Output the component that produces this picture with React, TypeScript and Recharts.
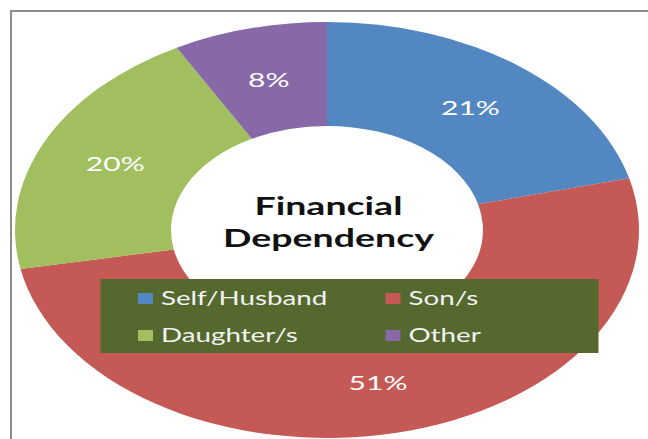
import { PieChart, Pie, Cell, Legend } from "recharts";

const categories = ["Self/Husband", "Son/s", "Daughter/s", "Other"];
const shares = [21, 51, 20, 8];
const colors = ["#5387C1", "#C45955", "#A1BF5F", "#8669A6"];
const titleLines = ["Financial", "Dependency"];

const data = categories.map((name, i) => ({ name, value: shares[i] }));

const FONT = "Lato, 'Open Sans', sans-serif";
const RADIAN = Math.PI / 180;

// the original picture is stretched sideways, so draw narrow and scale x by 1.5
const STRETCH = 1.5;
const W = 648 / STRETCH;
const H = 439;
const CX = 218;
const CY = 230;

function sliceLabel(p: any) {
  const r = p.innerRadius + (p.outerRadius - p.innerRadius) * 0.5;
  const x = p.cx + r * Math.cos(-p.midAngle * RADIAN);
  const y = p.cy + r * Math.sin(-p.midAngle * RADIAN);
  return (
    <text x={x} y={y} fill="#ffffff" fontFamily={FONT} fontSize={20}
      textAnchor="middle" dominantBaseline="central">
      {`${p.value}%`}
    </text>
  );
}

function legendBox() {
  return (
    <div style={{
      width: "100%", height: "100%", background: "#55682E", position: "relative",
      fontFamily: FONT, fontSize: 18.5, color: "#f2f2f2",
    }}>
      {categories.map((c, i) => (
        <div key={c} style={{
          position: "absolute",
          left: i % 2 === 0 ? 25 : 190,
          top: i < 2 ? 7 : 44,
          display: "flex", alignItems: "center", height: 24, whiteSpace: "nowrap",
        }}>
          <span style={{ width: 10, height: 11, background: colors[i], marginRight: 5 }} />
          <span>{c}</span>
        </div>
      ))}
    </div>
  );
}

export default function App() {
  return (
    <div style={{
      position: "absolute", left: 0, top: 0, width: 648, height: 439,
      overflow: "hidden", background: "#fff",
    }}>
      <div style={{
        position: "absolute", left: 10, top: 10, width: 700, height: 500,
        border: "2px solid #8c8c8c",
      }} />
      <div style={{
        position: "absolute", left: 0, top: 0, width: W, height: H,
        transform: `scaleX(${STRETCH})`, transformOrigin: "0 0",
      }}>
        <PieChart width={W} height={H} margin={{ top: 0, right: 0, bottom: 0, left: 0 }}>
          <Pie data={data} dataKey="value" nameKey="name" cx={CX} cy={CY}
            innerRadius={104} outerRadius={208} startAngle={90} endAngle={-270}
            stroke="none" label={sliceLabel} labelLine={false}
            isAnimationActive={false}>
            {data.map((d, i) => <Cell key={d.name} fill={colors[i]} />)}
          </Pie>
          <Legend content={legendBox}
            wrapperStyle={{ position: "absolute", left: 67.3, top: 279, width: 331.3, height: 74 }} />
        </PieChart>
        <svg width={W} height={H} style={{ position: "absolute", left: 0, top: 0, pointerEvents: "none" }}>
          <text textAnchor="middle" fontFamily={FONT} fontWeight={700} fontSize={25} fill="#111">
            <tspan x={CX + 1} y={215}>{titleLines[0]}</tspan>
            <tspan x={CX + 1} y={247}>{titleLines[1]}</tspan>
          </text>
        </svg>
      </div>
    </div>
  );
}
